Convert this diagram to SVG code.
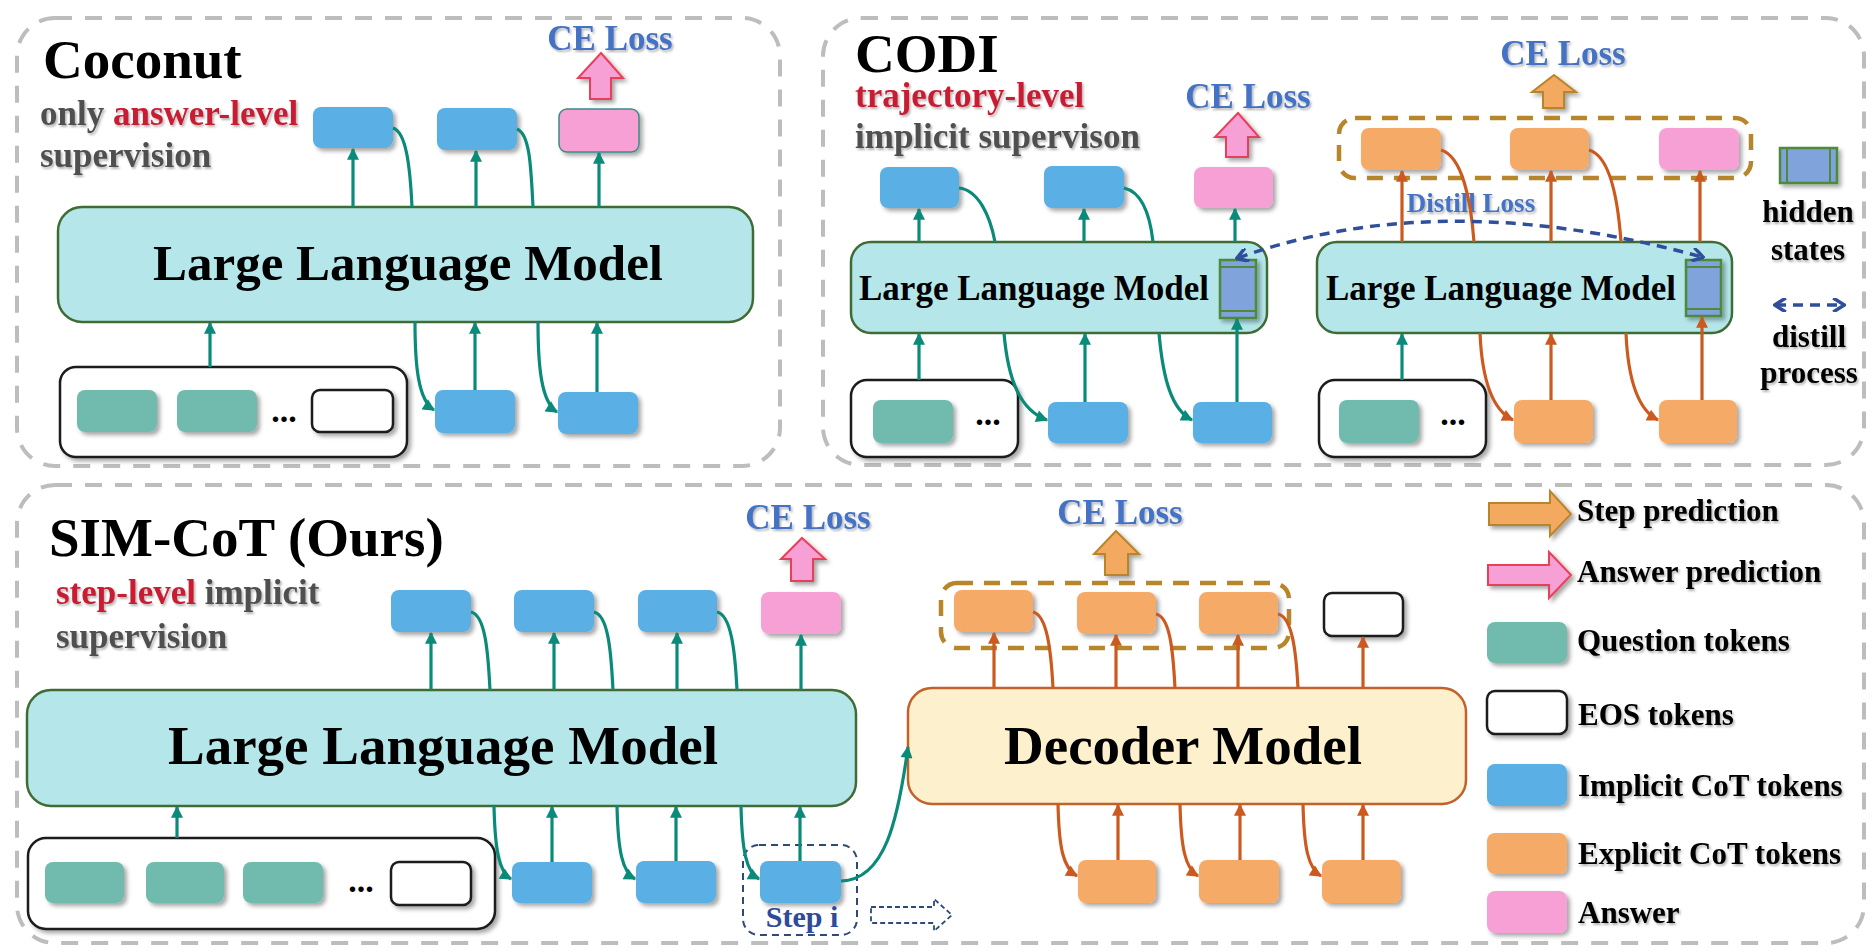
<svg xmlns="http://www.w3.org/2000/svg" width="1872" height="952" viewBox="0 0 1872 952">
<style>
text{font-family:"Liberation Serif","Times New Roman",serif;font-weight:bold}
.panel{fill:none;stroke:#bdbdbd;stroke-width:4;stroke-dasharray:17 13}
.llm{fill:#b5e7ea;stroke:#3f6b35;stroke-width:2.5}
.dec{fill:#fdf0cc;stroke:#c4602a;stroke-width:2.5}
.blue{fill:#5aafe5;filter:url(#sh)}
.pink{fill:#f6a0d6;filter:url(#sh)}
.q{fill:#70bbae;filter:url(#sh)}
.or{fill:#f5aa68;filter:url(#sh)}
.eos{fill:#fff;stroke:#1a1a1a;stroke-width:2.5;filter:url(#sh)}
.inbox{fill:#fff;stroke:#1a1a1a;stroke-width:2.5;filter:url(#sh)}
.hid{fill:#7fa3da;stroke:#4e8a3a;stroke-width:2.5;filter:url(#sh)}
.hidl{stroke:#4e8a3a;stroke-width:2}
.grp{fill:none;stroke:#b8862a;stroke-width:4.5;stroke-dasharray:16 11}
.t{stroke:#0a8a78;stroke-width:3.2;fill:none}
.ta{stroke:#0a8a78;stroke-width:3.2;fill:none;marker-end:url(#mt)}
.o{stroke:#cc5a1e;stroke-width:3.2;fill:none}
.oa{stroke:#cc5a1e;stroke-width:3.2;fill:none;marker-end:url(#mo)}
.fatp{fill:#f6a0d6;stroke:#e8405a;stroke-width:2;filter:url(#sh)}
.fato{fill:#f4a961;stroke:#b8862a;stroke-width:2;filter:url(#sh)}
.ce{fill:#4472c4;font-size:35px;text-anchor:middle;filter:url(#ts)}
.title{fill:#000;font-size:55px}
.sub{fill:#505050;font-size:35px;filter:url(#ts)}
.red{fill:#c81e32}
.lg{fill:#000;font-size:31px;filter:url(#ts)}
.dist{stroke:#2f4f9b;stroke-width:3.5;fill:none;stroke-dasharray:10 7}
</style>
<defs>
<filter id="sh" x="-20%" y="-20%" width="150%" height="160%"><feDropShadow dx="3" dy="3" stdDeviation="2" flood-color="#000" flood-opacity="0.35"/></filter>
<filter id="ts" x="-5%" y="-20%" width="115%" height="150%"><feDropShadow dx="1.5" dy="2" stdDeviation="1.2" flood-color="#000" flood-opacity="0.3"/></filter>
<marker id="mt" viewBox="0 0 10 10" refX="9" refY="5" markerWidth="13" markerHeight="12" markerUnits="userSpaceOnUse" orient="auto"><path d="M0,0 L10,5 L0,10 z" fill="#0a8a78"/></marker>
<marker id="mo" viewBox="0 0 10 10" refX="9" refY="5" markerWidth="13" markerHeight="12" markerUnits="userSpaceOnUse" orient="auto"><path d="M0,0 L10,5 L0,10 z" fill="#cc5a1e"/></marker>
<marker id="md" viewBox="0 0 10 10" refX="8" refY="5" markerWidth="14" markerHeight="14" markerUnits="userSpaceOnUse" orient="auto-start-reverse"><path d="M1,0 L9,5 L1,10" fill="none" stroke="#2f4f9b" stroke-width="2.5"/></marker>
</defs>
<rect width="1872" height="952" fill="#fff"/>

<!-- panels -->
<g id="panels">
<rect class="panel" x="17" y="18" width="763" height="448" rx="38"/>
<rect class="panel" x="823" y="18" width="1041" height="447" rx="38"/>
<rect class="panel" x="17" y="485" width="1847" height="458" rx="38"/>
</g>

<!-- Coconut -->
<g id="coconut-title">
<text class="title" x="43" y="78">Coconut</text>
<text class="sub" x="40" y="125">only <tspan class="red">answer-level</tspan></text>
<text class="sub" x="40" y="167">supervision</text>
</g>
<g id="coconut-llm"><rect class="llm" x="58" y="207" width="695" height="115" rx="24"/><text x="408" y="280" font-size="51" text-anchor="middle">Large Language Model</text></g>
<g id="coconut-top-tokens">
<rect class="blue" x="313" y="107" width="80" height="41" rx="8"/>
<rect class="blue" x="437" y="108" width="80" height="42" rx="8"/>
<rect class="pink" x="559" y="109" width="80" height="43" rx="8" stroke="#3f8a86" stroke-width="1.5"/>
</g>
<g id="coconut-input"><rect class="inbox" x="60" y="367" width="347" height="90" rx="16"/>
<rect class="q" x="77" y="390" width="80" height="42" rx="8"/><rect class="q" x="177" y="390" width="80" height="42" rx="8"/>
<text x="284" y="422" font-size="34" text-anchor="middle">...</text>
<rect class="eos" x="312" y="390" width="81" height="42" rx="8"/></g>
<g id="coconut-bottom-tokens">
<rect class="blue" x="435" y="390" width="80" height="43" rx="8"/>
<rect class="blue" x="558" y="392" width="80" height="42" rx="8"/>
</g>
<g id="coconut-celoss"><polygon class="fatp" points="601,53 623,78 611,78 611,99 590,99 590,78 578,78"/><text class="ce" x="610" y="50">CE Loss</text></g>

<!-- CODI -->
<g id="codi-title">
<text class="title" x="855" y="72">CODI</text>
<text class="sub red" x="855" y="107">trajectory-level</text>
<text class="sub" x="855" y="148">implicit supervison</text>
</g>
<g id="codi-llm1"><rect class="llm" x="851" y="242" width="416" height="91" rx="20"/><text x="1034" y="300" font-size="35" text-anchor="middle">Large Language Model</text>
<rect class="hid" x="1220" y="260" width="36" height="58"/><line class="hidl" x1="1220" y1="267" x2="1256" y2="267"/><line class="hidl" x1="1220" y1="311" x2="1256" y2="311"/></g>
<g id="codi-llm2"><rect class="llm" x="1317" y="242" width="415" height="91" rx="20"/><text x="1501" y="300" font-size="35" text-anchor="middle">Large Language Model</text>
<rect class="hid" x="1686" y="260" width="35" height="56"/><line class="hidl" x1="1686" y1="267" x2="1721" y2="267"/><line class="hidl" x1="1686" y1="309" x2="1721" y2="309"/></g>
<g id="codi-left-tokens">
<rect class="blue" x="880" y="167" width="79" height="41" rx="8"/>
<rect class="blue" x="1044" y="166" width="80" height="42" rx="8"/>
<rect class="pink" x="1194" y="167" width="79" height="41" rx="8"/>
<rect class="blue" x="1048" y="402" width="80" height="41" rx="8"/>
<rect class="blue" x="1193" y="402" width="79" height="41" rx="8"/>
</g>
<g id="codi-input1"><rect class="inbox" x="851" y="380" width="167" height="77" rx="16"/><rect class="q" x="873" y="400" width="80" height="43" rx="8"/><text x="988" y="425" font-size="34" text-anchor="middle">...</text></g>
<g id="codi-input2"><rect class="inbox" x="1319" y="380" width="167" height="77" rx="16"/><rect class="q" x="1339" y="400" width="80" height="43" rx="8"/><text x="1453" y="425" font-size="34" text-anchor="middle">...</text></g>
<g id="codi-right-tokens">
<rect class="grp" x="1339" y="118" width="412" height="60" rx="16"/>
<rect class="or" x="1361" y="128" width="80" height="42" rx="8"/>
<rect class="or" x="1510" y="128" width="79" height="42" rx="8"/>
<rect class="pink" x="1659" y="128" width="80" height="42" rx="8"/>
<rect class="or" x="1514" y="400" width="79" height="43" rx="8"/>
<rect class="or" x="1659" y="400" width="78" height="43" rx="8"/>
</g>
<g id="codi-celoss1"><polygon class="fatp" points="1238,113 1259,137 1248,137 1248,157 1226,157 1226,137 1215,137"/><text class="ce" x="1248" y="108">CE Loss</text></g>
<g id="codi-celoss2"><polygon class="fato" points="1554,75 1576,92 1564,92 1564,108 1543,108 1543,92 1532,92"/><text class="ce" x="1563" y="65">CE Loss</text></g>
<g id="codi-distill-label"><text x="1471" y="212" font-size="27" fill="#4472c4" text-anchor="middle" filter="url(#ts)">Distill Loss</text></g>
<g id="codi-legend">
<rect class="hid" x="1780" y="148" width="57" height="35"/><line class="hidl" x1="1787" y1="148" x2="1787" y2="183"/><line class="hidl" x1="1830" y1="148" x2="1830" y2="183"/>
<text class="lg" x="1808" y="222" text-anchor="middle">hidden</text>
<text class="lg" x="1808" y="260" text-anchor="middle">states</text>
<line class="dist" x1="1776" y1="305" x2="1843" y2="305" stroke-dasharray="9 6" marker-start="url(#md)" marker-end="url(#md)"/>
<text class="lg" x="1809" y="347" text-anchor="middle">distill</text>
<text class="lg" x="1809" y="383" text-anchor="middle">process</text>
</g>

<!-- SIM-CoT -->
<g id="sim-title">
<text class="title" x="49" y="556">SIM-CoT (Ours)</text>
<text class="sub" x="56" y="604"><tspan class="red">step-level</tspan> implicit</text>
<text class="sub" x="56" y="648">supervision</text>
</g>
<g id="sim-llm"><rect class="llm" x="27" y="690" width="829" height="116" rx="24"/><text x="443" y="764" font-size="55" text-anchor="middle">Large Language Model</text></g>
<g id="sim-top-tokens">
<rect class="blue" x="391" y="590" width="80" height="42" rx="8"/>
<rect class="blue" x="514" y="590" width="80" height="42" rx="8"/>
<rect class="blue" x="638" y="590" width="79" height="42" rx="8"/>
<rect class="pink" x="761" y="592" width="80" height="42" rx="8"/>
</g>
<g id="sim-input"><rect class="inbox" x="28" y="838" width="467" height="91" rx="18"/>
<rect class="q" x="45" y="862" width="79" height="41" rx="8"/><rect class="q" x="146" y="862" width="78" height="41" rx="8"/><rect class="q" x="243" y="862" width="80" height="41" rx="8"/>
<text x="361" y="892" font-size="34" text-anchor="middle">...</text>
<rect class="eos" x="391" y="862" width="80" height="43" rx="8"/></g>
<g id="sim-bottom-tokens">
<rect class="blue" x="512" y="862" width="80" height="41" rx="8"/>
<rect class="blue" x="636" y="861" width="80" height="42" rx="8"/>
<rect class="blue" x="760" y="861" width="81" height="42" rx="8"/>
</g>
<g id="sim-step"><rect x="743" y="845" width="114" height="90" rx="16" fill="none" stroke="#2e4a7a" stroke-width="2" stroke-dasharray="7 5"/>
<text x="802" y="927" font-size="30" fill="#2e4a9a" text-anchor="middle">Step i</text>
<polygon points="871,907 934,907 934,899 952,915 934,931 934,923 871,923" fill="none" stroke="#2e4a7a" stroke-width="1.8" stroke-dasharray="5 3"/></g>
<g id="sim-celoss1"><polygon class="fatp" points="802,538 825,559 813,559 813,581 791,581 791,559 781,559"/><text class="ce" x="808" y="529">CE Loss</text></g>
<g id="sim-decoder"><rect class="dec" x="908" y="688" width="558" height="116" rx="24"/><text x="1183" y="764" font-size="55" text-anchor="middle">Decoder Model</text></g>
<g id="sim-decoder-tokens">
<rect class="grp" x="941" y="583" width="348" height="65" rx="16"/>
<rect class="or" x="954" y="590" width="79" height="42" rx="8"/>
<rect class="or" x="1077" y="592" width="79" height="42" rx="8"/>
<rect class="or" x="1199" y="592" width="79" height="42" rx="8"/>
<rect class="eos" x="1324" y="593" width="79" height="43" rx="8"/>
<rect class="or" x="1078" y="860" width="78" height="43" rx="8"/>
<rect class="or" x="1199" y="860" width="80" height="43" rx="8"/>
<rect class="or" x="1322" y="860" width="79" height="43" rx="8"/>
</g>
<g id="sim-celoss2"><polygon class="fato" points="1116,531 1139,554 1128,554 1128,575 1105,575 1105,554 1094,554"/><text class="ce" x="1120" y="524">CE Loss</text></g>

<!-- legend -->
<g id="legend">
<polygon class="fato" points="1489,503 1550,503 1550,491 1571,514 1550,536 1550,525 1489,525"/>
<text class="lg" x="1577" y="521">Step prediction</text>
<polygon class="fatp" points="1488,565 1549,565 1549,552 1571,575 1549,598 1549,585 1488,585"/>
<text class="lg" x="1577" y="582">Answer prediction</text>
<rect class="q" x="1487" y="622" width="80" height="41" rx="8"/>
<text class="lg" x="1577" y="651">Question tokens</text>
<rect class="eos" x="1487" y="691" width="80" height="43" rx="8"/>
<text class="lg" x="1578" y="725">EOS tokens</text>
<rect class="blue" x="1487" y="764" width="80" height="42" rx="8"/>
<text class="lg" x="1578" y="796">Implicit CoT tokens</text>
<rect class="or" x="1487" y="833" width="80" height="41" rx="8"/>
<text class="lg" x="1578" y="864">Explicit CoT tokens</text>
<rect class="pink" x="1487" y="891" width="80" height="42" rx="8"/>
<text class="lg" x="1578" y="923">Answer</text>
</g>

<!-- connectors -->
<g id="connectors">
<!-- coconut -->
<line class="ta" x1="353" y1="207" x2="353" y2="149"/>
<line class="ta" x1="476" y1="207" x2="476" y2="151"/>
<line class="ta" x1="599" y1="207" x2="599" y2="153"/>
<line class="ta" x1="210" y1="367" x2="210" y2="323"/>
<line class="ta" x1="475" y1="390" x2="475" y2="323"/>
<line class="ta" x1="597" y1="392" x2="597" y2="323"/>
<path class="t" d="M393,128 C406,132 410,165 412,207"/>
<path class="t" d="M517,129 C530,134 531,168 533,207"/>
<path class="ta" d="M415,322 C415,365 418,400 434,410"/>
<path class="ta" d="M538,322 C538,365 541,402 557,412"/>
<!-- codi left -->
<line class="ta" x1="919" y1="242" x2="919" y2="209"/>
<line class="ta" x1="1084" y1="242" x2="1084" y2="209"/>
<line class="ta" x1="1235" y1="242" x2="1235" y2="209"/>
<line class="ta" x1="919" y1="380" x2="919" y2="334"/>
<line class="ta" x1="1085" y1="402" x2="1085" y2="334"/>
<line class="ta" x1="1237" y1="402" x2="1237" y2="319"/>
<path class="t" d="M959,188 C978,190 990,215 995,242"/>
<path class="t" d="M1124,188 C1142,192 1150,215 1153,242"/>
<path class="ta" d="M1004,333 C1008,380 1020,410 1047,420"/>
<path class="ta" d="M1159,333 C1163,380 1172,410 1192,420"/>
<!-- codi right -->
<line class="oa" x1="1402" y1="242" x2="1402" y2="171"/>
<line class="oa" x1="1551" y1="242" x2="1551" y2="171"/>
<line class="oa" x1="1700" y1="242" x2="1700" y2="171"/>
<line class="ta" x1="1402" y1="380" x2="1402" y2="334"/>
<line class="oa" x1="1551" y1="400" x2="1551" y2="334"/>
<line class="oa" x1="1702" y1="400" x2="1702" y2="317"/>
<path class="o" d="M1441,150 C1462,156 1471,200 1474,242"/>
<path class="o" d="M1589,150 C1610,156 1618,200 1621,242"/>
<path class="oa" d="M1480,333 C1482,380 1492,410 1513,420"/>
<path class="oa" d="M1626,333 C1628,380 1638,410 1658,420"/>
<path class="dist" d="M1238,258 Q1440,185 1702,257" marker-start="url(#md)" marker-end="url(#md)"/>
<!-- sim llm -->
<line class="ta" x1="431" y1="690" x2="431" y2="633"/>
<line class="ta" x1="554" y1="690" x2="554" y2="633"/>
<line class="ta" x1="677" y1="690" x2="677" y2="633"/>
<line class="ta" x1="801" y1="690" x2="801" y2="635"/>
<line class="ta" x1="177" y1="838" x2="177" y2="807"/>
<line class="ta" x1="552" y1="862" x2="552" y2="807"/>
<line class="ta" x1="676" y1="861" x2="676" y2="807"/>
<line class="ta" x1="800" y1="861" x2="800" y2="807"/>
<path class="t" d="M471,612 C485,615 488,650 490,690"/>
<path class="t" d="M594,612 C608,615 611,650 613,690"/>
<path class="t" d="M717,612 C731,615 735,650 737,690"/>
<path class="ta" d="M494,806 C495,850 499,872 511,879"/>
<path class="ta" d="M617,806 C618,850 622,872 635,879"/>
<path class="ta" d="M741,806 C742,850 746,872 759,879"/>
<path class="ta" d="M841,881 C885,880 898,820 908,747"/>
<!-- sim decoder -->
<line class="oa" x1="994" y1="688" x2="994" y2="633"/>
<line class="oa" x1="1116" y1="688" x2="1116" y2="635"/>
<line class="oa" x1="1238" y1="688" x2="1238" y2="635"/>
<line class="oa" x1="1363" y1="688" x2="1363" y2="637"/>
<line class="oa" x1="1118" y1="860" x2="1118" y2="805"/>
<line class="oa" x1="1240" y1="860" x2="1240" y2="805"/>
<line class="oa" x1="1363" y1="860" x2="1363" y2="805"/>
<path class="o" d="M1033,612 C1047,615 1051,650 1053,688"/>
<path class="o" d="M1156,614 C1170,617 1173,650 1175,688"/>
<path class="o" d="M1278,614 C1292,617 1296,650 1298,688"/>
<path class="oa" d="M1058,804 C1059,848 1063,868 1077,876"/>
<path class="oa" d="M1180,804 C1181,848 1185,868 1198,876"/>
<path class="oa" d="M1303,804 C1304,848 1308,868 1321,876"/>
</g>
</svg>
